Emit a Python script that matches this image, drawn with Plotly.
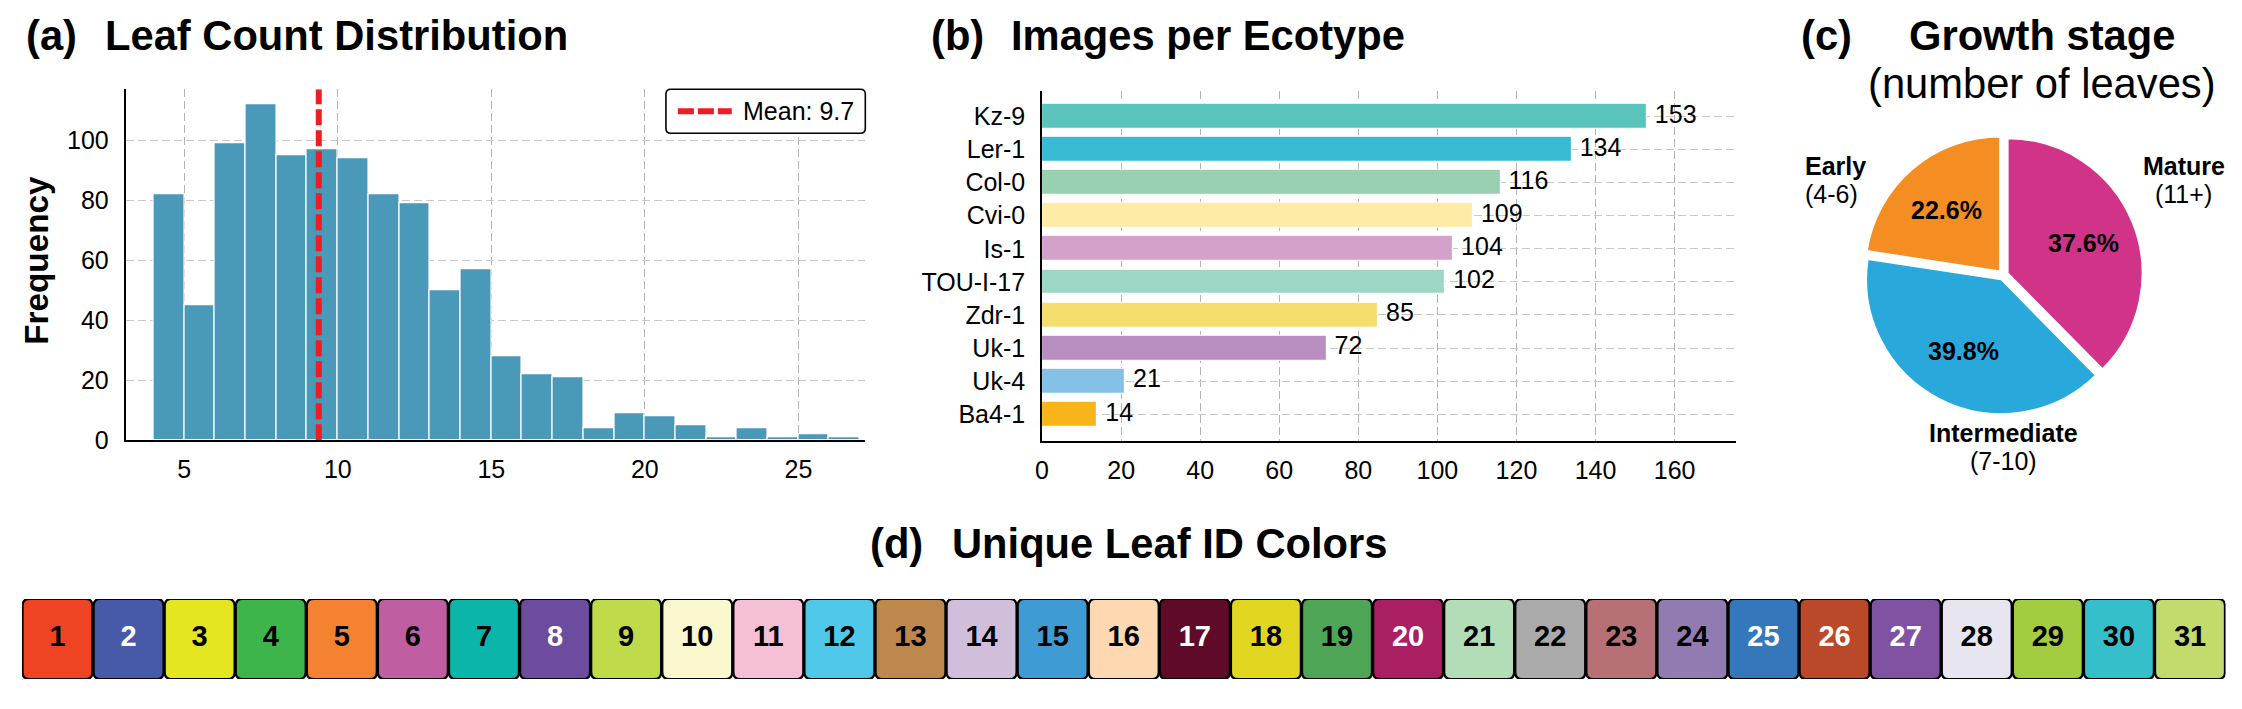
import math
import plotly.graph_objects as go

W, H = 2242, 709
FONT = "Liberation Sans, Arial, sans-serif"

# ---------------- data ----------------
# (a) histogram of leaf counts (bins of width 1 starting at 4)
leaf_bin_left = list(range(4, 27))
leaf_counts = [82, 45, 99, 112, 95, 97, 94, 82, 79, 50, 57, 28, 22, 21, 4, 9, 8, 5, 1, 4, 1, 2, 1]
mean_label = "Mean: 9.7"
mean_line_x = 9.38

# (b) images per ecotype
ecotypes = ["Kz-9", "Ler-1", "Col-0", "Cvi-0", "Is-1", "TOU-I-17", "Zdr-1", "Uk-1", "Uk-4", "Ba4-1"]
ecotype_images = [153, 134, 116, 109, 104, 102, 85, 72, 21, 14]
ecotype_colors = ["#5bc5bd", "#38b9d4", "#99d0b2", "#fdeba6", "#d4a1ca",
                  "#9cd7c6", "#f4df6e", "#b78ebf", "#85c1e6", "#f7b51a"]

# (c) growth stage
stage_names = ["Early", "Intermediate", "Mature"]
stage_ranges = ["(4-6)", "(7-10)", "(11+)"]
stage_pct = [22.6, 39.8, 37.6]
stage_colors = ["#f48e23", "#29a8dc", "#d13389"]

# (d) leaf id colours
leaf_ids = list(range(1, 32))
leaf_colors = ["#ef4423", "#475aa8", "#e4e622", "#3db54a", "#f58230", "#bf5fa2", "#0bb5aa", "#6b4c9e",
               "#bfda4a", "#fbf8cf", "#f5bfd6", "#4fc8ea", "#be884c", "#d0bedb", "#3e9bd4", "#fed8b1",
               "#600a29", "#e2d720", "#4ea556", "#aa1e62", "#b3ddb7", "#aaaaaa", "#b87077", "#917bb1",
               "#3577bb", "#b94928", "#8053a2", "#e7e5f0", "#a3cc40", "#34bfcb", "#c3da6c"]
leaf_text_colors = ["black", "white", "black", "black", "black", "black", "black", "white",
                    "black", "black", "black", "black", "black", "black", "black", "black",
                    "white", "black", "black", "white", "black", "black", "black", "black",
                    "white", "white", "white", "black", "black", "black", "black"]


def px_x(p):
    return p / W


def px_y(p):
    return 1 - p / H


fig = go.Figure()

# ---------------- (a) histogram ----------------
fig.add_trace(go.Bar(
    x=[b + 0.5 for b in leaf_bin_left], y=leaf_counts, width=1.0,
    marker=dict(color="#4b99b9", line=dict(color="white", width=1.2)),
    showlegend=False, xaxis="x", yaxis="y", hoverinfo="skip"))
fig.add_trace(go.Scatter(
    x=[mean_line_x, mean_line_x], y=[0, 117], mode="lines",
    line=dict(color="#ee1d25", width=6, dash="16px,5px"),
    name=mean_label, showlegend=False, xaxis="x", yaxis="y", cliponaxis=False))

# ---------------- (b) horizontal bars ----------------
fig.add_trace(go.Bar(
    y=ecotypes, x=ecotype_images, orientation="h", width=0.75,
    marker=dict(color=ecotype_colors, line=dict(color="white", width=1.2)),
    showlegend=False, xaxis="x2", yaxis="y2", hoverinfo="skip"))
fig.add_trace(go.Scatter(
    y=ecotypes, x=[v + 2 for v in ecotype_images], mode="text",
    text=[str(v) for v in ecotype_images], textposition="middle right",
    textfont=dict(size=25, color="black", family=FONT),
    showlegend=False, xaxis="x2", yaxis="y2", cliponaxis=False, hoverinfo="skip"))

# ---------------- (c) pie ----------------
pie_x0, pie_x1, pie_y0, pie_y1 = 1861, 2144, 138, 423
PULL = 0.035
fig.add_trace(go.Pie(
    labels=stage_names, values=stage_pct, sort=False, direction="counterclockwise",
    rotation=-stage_pct[0] / sum(stage_pct) * 360,
    marker=dict(colors=stage_colors, line=dict(color="white", width=2)),
    pull=[PULL] * len(stage_pct),
    textinfo="none",
    domain=dict(x=[px_x(pie_x0), px_x(pie_x1)], y=[px_y(pie_y1), px_y(pie_y0)]),
    showlegend=False, hoverinfo="skip"))

# ---------------- (d) colour boxes ----------------
fig.add_trace(go.Scatter(
    x=leaf_ids, y=[0.5] * len(leaf_ids), mode="text", text=[str(i) for i in leaf_ids],
    textposition="middle center",
    textfont=dict(size=29, color=leaf_text_colors, family=FONT, weight="bold"),
    showlegend=False, xaxis="x4", yaxis="y4", hoverinfo="skip"))


def rounded_path(x0, y0, x1, y1, rx, ry):
    return (f"M {x0+rx},{y0} L {x1-rx},{y0} Q {x1},{y0} {x1},{y0+ry} "
            f"L {x1},{y1-ry} Q {x1},{y1} {x1-rx},{y1} L {x0+rx},{y1} "
            f"Q {x0},{y1} {x0},{y1-ry} L {x0},{y0+ry} Q {x0},{y0} {x0+rx},{y0} Z")


d_left, d_right, d_top, d_bot = 15, 2225.5, 611, 692.7
ppx = (d_right - d_left) / 31.0
ppy = (d_bot - d_top) / 1.0
shapes = []
for i, col in zip(leaf_ids, leaf_colors):
    g = 0.6 / ppx
    shapes.append(dict(type="path",
                       path=rounded_path(i - 0.5 + g, 0.0, i + 0.5 - g, 1.0, 7 / ppx, 7 / ppy),
                       xref="x4", yref="y4",
                       fillcolor=col, line=dict(color="black", width=2.2), layer="below"))

# legend box for (a) (drawn by hand to match the long dashed sample)
shapes.append(dict(type="path",
                   path=rounded_path(px_x(661), px_y(136), px_x(861), px_y(91), 5 / W, 5 / H),
                   xref="paper", yref="paper", fillcolor="white",
                   line=dict(color="black", width=1.6), layer="above"))
shapes.append(dict(type="line", xref="paper", yref="paper",
                   x0=px_x(673), x1=px_x(727), y0=px_y(113.5), y1=px_y(113.5),
                   line=dict(color="#ee1d25", width=6, dash="16px,4px"), layer="above"))

# ---------------- annotations ----------------
ann = []
TS = 41.7


def title_ann(text, x, baseline, anchor="left", size=TS, bold=True):
    yc = baseline - 0.3465 * size
    return dict(text=f"<b>{text}</b>" if bold else text, x=px_x(x), y=px_y(yc),
                xref="paper", yref="paper", xanchor=anchor, yanchor="middle",
                showarrow=False, font=dict(size=size, color="black", family=FONT))


ann.append(title_ann("(a)", 16.7, 50.5))
ann.append(title_ann("Leaf Count Distribution", 96.7, 50.5))
ann.append(title_ann("(b)", 924.8, 50.5))
ann.append(title_ann("Images per Ecotype", 1004.7, 50.5))
ann.append(title_ann("(c)", 1797.7, 50.5))
ann.append(title_ann("Growth stage", 2041.7, 50.5, anchor="center"))
ann.append(title_ann("(number of leaves)", 2041.5, 100.0, anchor="center", bold=False))
ann.append(title_ann("(d)", 864.0, 569.0))
ann.append(title_ann("Unique Leaf ID Colors", 946.4, 569.0))

# legend text
ann.append(title_ann(mean_label, 736, 121.7, size=25, bold=False))

# y-axis title for (a)
ann.append(dict(text="<b>Frequency</b>", x=px_x(30.2), y=px_y(266), xref="paper", yref="paper",
                xanchor="center", yanchor="middle", textangle=-90, showarrow=False,
                font=dict(size=33.3, color="black", family=FONT)))

# pie percentage labels, placed at 0.6 of the radius along each slice's bisector
pcx, pcy = (pie_x0 + pie_x1) / 2, (pie_y0 + pie_y1) / 2
r_base = min(pie_x1 - pie_x0, pie_y1 - pie_y0) / 2 / (1 + PULL)
total = sum(stage_pct)
cum = 0.0
for p in stage_pct:
    mid = math.radians(90 + 360 * (cum + p / 2) / total)
    cum += p
    dist = (PULL + 0.6) * r_base
    lx = pcx + dist * math.cos(mid)
    ly = pcy - dist * math.sin(mid)
    ann.append(dict(text=f"<b>{p:.1f}%</b>", x=px_x(lx), y=px_y(ly), xref="paper", yref="paper",
                    xanchor="center", yanchor="middle", showarrow=False,
                    font=dict(size=25, color="black", family=FONT)))

# pie outside labels
pie_label_pos = {
    "Early": (1801.7, 178.3, 206.7, "left"),
    "Intermediate": (2002.7, 450.7, 479.3, "center"),
    "Mature": (2183.5, 178.3, 206.7, "center"),
}
for name, rng in zip(stage_names, stage_ranges):
    x, b1, b2, anc = pie_label_pos[name]
    ann.append(title_ann(name, x, b1, anchor=anc, size=25, bold=True))
    ann.append(title_ann(rng, x, b2, anchor=anc, size=25, bold=False))

grid_h = "#c8c8c8"
grid_v = "#b4b4b4"
common_x = dict(showline=True, linecolor="black", linewidth=1.8, zeroline=False,
                ticks="outside", ticklen=6, tickcolor="rgba(0,0,0,0)",
                tickfont=dict(size=25, color="black", family=FONT),
                showgrid=True, gridcolor=grid_v, gridwidth=1.2, griddash="8px,4px")
common_y = dict(showline=True, linecolor="black", linewidth=1.8, zeroline=False,
                ticks="outside", ticklen=10, tickcolor="rgba(0,0,0,0)",
                tickfont=dict(size=25, color="black", family=FONT),
                showgrid=True, gridcolor=grid_h, gridwidth=1.2, griddash="8px,4px")

fig.update_layout(
    width=W, height=H, autosize=False,
    margin=dict(l=0, r=0, t=0, b=0),
    paper_bgcolor="white", plot_bgcolor="white",
    font=dict(family=FONT, color="black"),
    bargap=0, showlegend=False,
    xaxis=dict(domain=[px_x(119), px_x(861)], range=[3.09, 27.18],
               tickvals=[5, 10, 15, 20, 25], anchor="y", **common_x),
    yaxis=dict(domain=[px_y(449), px_y(91)], range=[0, 117],
               tickvals=[0, 20, 40, 60, 80, 100], anchor="x", **common_y),
    xaxis2=dict(domain=[px_x(1038.3), px_x(1734.3)], range=[0, 175.5],
                tickvals=[0, 20, 40, 60, 80, 100, 120, 140, 160], anchor="y2", **common_x),
    yaxis2=dict(domain=[px_y(450), px_y(92.7)], range=[-0.81, 9.77], type="category",
                categoryorder="array", categoryarray=ecotypes[::-1], anchor="x2", **common_y),
    xaxis4=dict(domain=[px_x(d_left), px_x(d_right)], range=[0.5, 31.5], visible=False, anchor="y4"),
    yaxis4=dict(domain=[px_y(d_bot), px_y(d_top)], range=[0, 1], visible=False, anchor="x4"),
    shapes=shapes,
    annotations=ann,
)

fig.write_html("out.html")
